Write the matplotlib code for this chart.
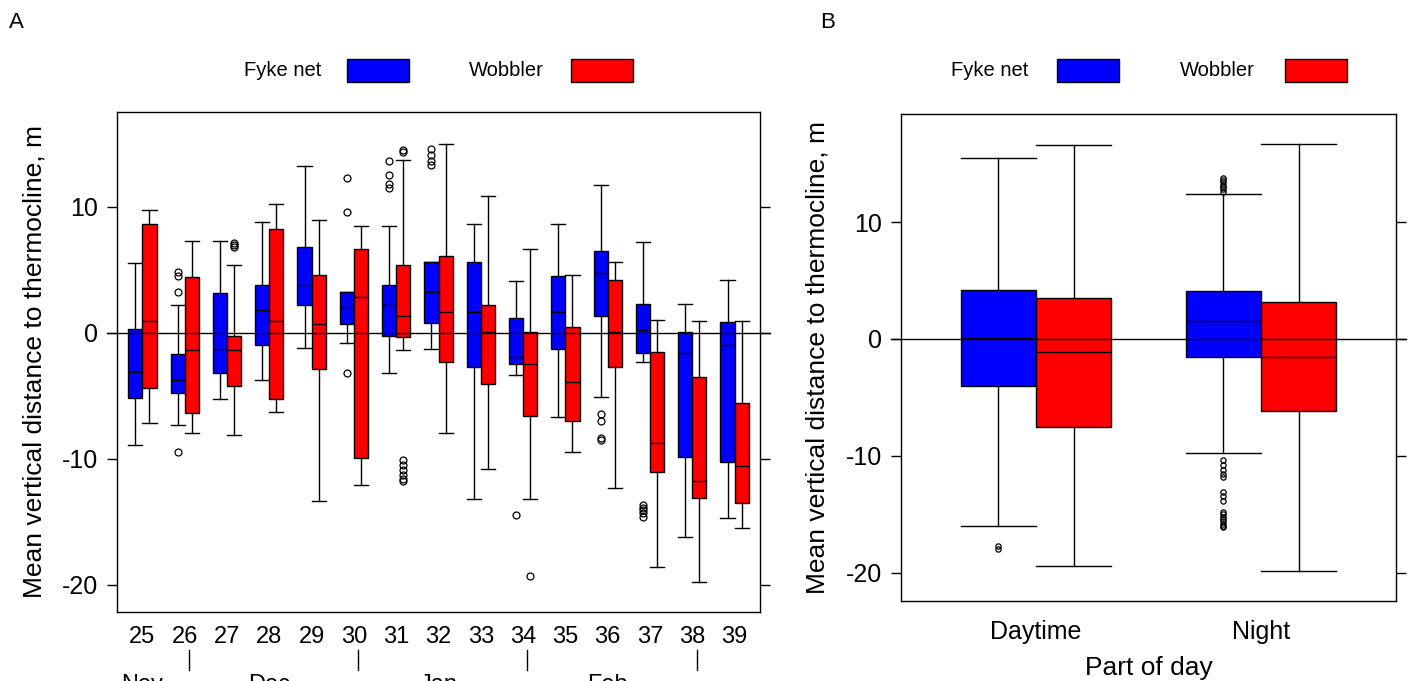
import matplotlib
matplotlib.use("Agg")
import matplotlib.pyplot as plt
import matplotlib.transforms as mtransforms
from matplotlib.patches import Rectangle
import numpy as np

plt.rcParams['font.family'] = ['Liberation Sans', 'DejaVu Sans']
plt.rcParams['axes.unicode_minus'] = False

W, H = 1409, 681

# ---- panel A: weekly distributions ----
weeks = [25, 26, 27, 28, 29, 30, 31, 32, 33, 34, 35, 36, 37, 38, 39]

fyke_lo = [-8.9, -7.3, -5.3, -3.8, -1.2, -0.8, -3.2, -1.3, -13.2, -3.4, -6.7, -5.1, -2.35, -16.2, -14.7]
fyke_q1 = [-5.2, -4.8, -3.2, -1.0, 2.2, 0.7, -0.25, 0.74, -2.75, -2.46, -1.27, 1.35, -1.6, -9.86, -10.3]
fyke_med = [-3.1, -3.8, -1.3, 1.8, 3.8, 2.0, 2.2, 3.25, 1.67, -1.9, 1.67, 4.74, 0.19, -1.6, -0.98]
fyke_q3 = [0.3, -1.7, 3.15, 3.8, 6.75, 3.25, 3.8, 5.56, 5.6, 1.14, 4.5, 6.5, 2.3, 0.08, 0.82]
fyke_hi = [5.5, 2.2, 7.3, 8.8, 13.2, 3.25, 8.45, 5.56, 8.65, 4.1, 8.65, 11.7, 7.2, 2.3, 4.2]
fyke_out = [[], [4.8, 4.5, 3.2, -9.5], [], [], [], [12.25, 9.55, -3.2],
            [13.6, 12.5, 11.8, 11.5], [14.6, 14.1, 13.6, 13.3], [], [-14.5], [],
            [-6.5, -7.0, -8.4, -8.5], [-13.7, -13.9, -14.1, -14.3, -14.6], [], []]

wob_lo = [-7.2, -8.0, -8.1, -6.3, -13.4, -12.06, -1.4, -8.0, -10.8, -13.2, -9.5, -12.3, -18.6, -19.8, -15.5]
wob_q1 = [-4.4, -6.4, -4.25, -5.3, -2.9, -9.97, -0.34, -2.35, -4.05, -6.6, -7.0, -2.7, -11.1, -13.1, -13.5]
wob_med = [0.93, -1.4, -1.4, 0.93, 0.7, 2.8, 1.35, 1.67, 0.08, -2.46, -3.9, 0.08, -8.8, -11.8, -10.6]
wob_q3 = [8.65, 4.4, -0.24, 8.2, 4.6, 6.65, 5.4, 6.1, 2.17, 0.08, 0.48, 4.2, -1.56, -3.5, -5.55]
wob_hi = [9.7, 7.3, 5.4, 10.2, 8.9, 8.45, 13.7, 15.0, 10.8, 6.6, 4.6, 5.6, 1.0, 0.93, 0.93]
wob_out = [[], [], [7.1, 6.95, 6.8], [], [], [],
           [14.5, 14.3, -10.1, -10.5, -10.9, -11.3, -11.6, -11.8], [], [], [-19.3], [],
           [], [], [], []]

months = ['Nov', 'Dec', 'Jan', 'Feb']
month_mid_week = [25, 28, 32, 36]
month_break_week = [26, 30, 34, 38]

# ---- panel B: part of day ----
parts = ['Daytime', 'Night']
day_fyke = dict(whislo=-16.0, q1=-4.0, med=0.1, q3=4.2, whishi=15.5, fliers=[-17.7, -18.0])
day_wob = dict(whislo=-19.4, q1=-7.5, med=-1.1, q3=3.5, whishi=16.6, fliers=[])
night_fyke = dict(whislo=-9.8, q1=-1.5, med=1.5, q3=4.1, whishi=12.4,
                  fliers=[12.6, 12.8, 13.0, 13.2, 13.4, 13.6, 13.8,
                          -10.4, -10.8, -11.2, -11.6, -11.8, -13.1, -13.4, -13.9,
                          -14.8, -15.0, -15.2, -15.4, -15.6, -15.8, -16.0, -16.1])
night_wob = dict(whislo=-19.9, q1=-6.2, med=-1.5, q3=3.2, whishi=16.7, fliers=[])

BLUE = '#0000FF'
RED = '#FF0000'
BOXW = 0.335


def make_stats(lo, q1, med, q3, hi, out):
    return [dict(whislo=a, q1=b, med=c, q3=d, whishi=e, fliers=f)
            for a, b, c, d, e, f in zip(lo, q1, med, q3, hi, out)]


def draw_boxes(ax, stats, pos, color, ms):
    ax.bxp(stats, positions=pos, widths=BOXW, capwidths=BOXW, patch_artist=True,
           manage_ticks=False,
           boxprops=dict(facecolor=color, edgecolor='black', linewidth=1.0),
           medianprops=dict(color='black', linewidth=1.0),
           whiskerprops=dict(color='black', linewidth=1.0),
           capprops=dict(color='black', linewidth=1.0),
           flierprops=dict(marker='o', markerfacecolor='none', markeredgecolor='black',
                           markersize=ms, markeredgewidth=0.9))


def style_axis(ax, yticks):
    ax.set_yticks(yticks)
    ax.tick_params(axis='y', which='both', direction='out', length=7.5, width=1.0,
                   labelsize=18, pad=6, right=True, labelright=False)
    ax.tick_params(axis='x', length=0)
    for s in ax.spines.values():
        s.set_linewidth(1.0)


def zero_line(ax, width_px):
    ext = 10.0 / width_px
    ax.axhline(0, xmin=-ext, xmax=1 + ext, color='black', linewidth=1.0,
               zorder=5, clip_on=False)


def legend_row(x_text1, x_box1, x_text2, x_box2):
    y0, y1 = 59, 82
    for xt, xb, lab, col in [(x_text1, x_box1, 'Fyke net', BLUE),
                             (x_text2, x_box2, 'Wobbler', RED)]:
        fig.text(xt / W, 1 - 71 / H, lab, fontsize=14.5, ha='left', va='center')
        fig.patches.append(Rectangle((xb / W, 1 - y1 / H), 62 / W, (y1 - y0) / H,
                                     transform=fig.transFigure, facecolor=col,
                                     edgecolor='black', linewidth=1.0))


fig = plt.figure(figsize=(W / 100, H / 100), dpi=100)

# panel A
axA = fig.add_axes([117 / W, 1 - 612 / H, 643 / W, 500 / H])
n = len(weeks)
xpos = np.arange(1, n + 1)
draw_boxes(axA, make_stats(fyke_lo, fyke_q1, fyke_med, fyke_q3, fyke_hi, fyke_out),
           xpos - BOXW / 2, BLUE, 5)
draw_boxes(axA, make_stats(wob_lo, wob_q1, wob_med, wob_q3, wob_hi, wob_out),
           xpos + BOXW / 2, RED, 5)
axA.set_xlim(0.4, n + 0.6)
axA.set_ylim(-22.17, 17.5)
style_axis(axA, [-20, -10, 0, 10])
axA.set_xticks(xpos, [str(w) for w in weeks])
axA.tick_params(axis='x', labelsize=17, pad=10)
zero_line(axA, 643)
axA.set_ylabel('Mean vertical distance to thermocline, m', fontsize=19)
axA.yaxis.set_label_coords(-0.109, 0.5)

# month names below the week numbers, with separators at month changes
trA = mtransforms.blended_transform_factory(axA.transData, axA.transAxes)
for wk in month_break_week:
    xb = weeks.index(wk) + 1.1
    axA.plot([xb, xb], [-0.076, -0.116], color='black', linewidth=1.0,
             transform=trA, clip_on=False)
for name, wk in zip(months, month_mid_week):
    axA.text(weeks.index(wk) + 1, -0.124, name, fontsize=17, ha='center', va='top',
             transform=trA, clip_on=False)

# panel B
axB = fig.add_axes([901 / W, 1 - 601 / H, 495 / W, 487 / H])
bpos = np.arange(1, len(parts) + 1)
draw_boxes(axB, [day_fyke, night_fyke], bpos - BOXW / 2, BLUE, 3.8)
draw_boxes(axB, [day_wob, night_wob], bpos + BOXW / 2, RED, 3.8)
axB.set_xlim(0.4, len(parts) + 0.6)
axB.set_ylim(-22.43, 19.26)
style_axis(axB, [-20, -10, 0, 10])
axB.set_xticks(bpos, parts)
axB.tick_params(axis='x', labelsize=18, pad=14)
zero_line(axB, 495)
axB.set_ylabel('Mean vertical distance to thermocline, m', fontsize=19)
axB.yaxis.set_label_coords(-0.145, 0.5)
axB.set_xlabel('Part of day', fontsize=19, labelpad=8)

# legends and panel letters
legend_row(244, 347, 469, 571)
legend_row(951, 1057, 1180, 1285)
fig.text(9 / W, 1 - 22 / H, 'A', fontsize=16, ha='left', va='center')
fig.text(820 / W, 1 - 22 / H, 'B', fontsize=16, ha='left', va='center')

fig.savefig('out.png', dpi=100)
